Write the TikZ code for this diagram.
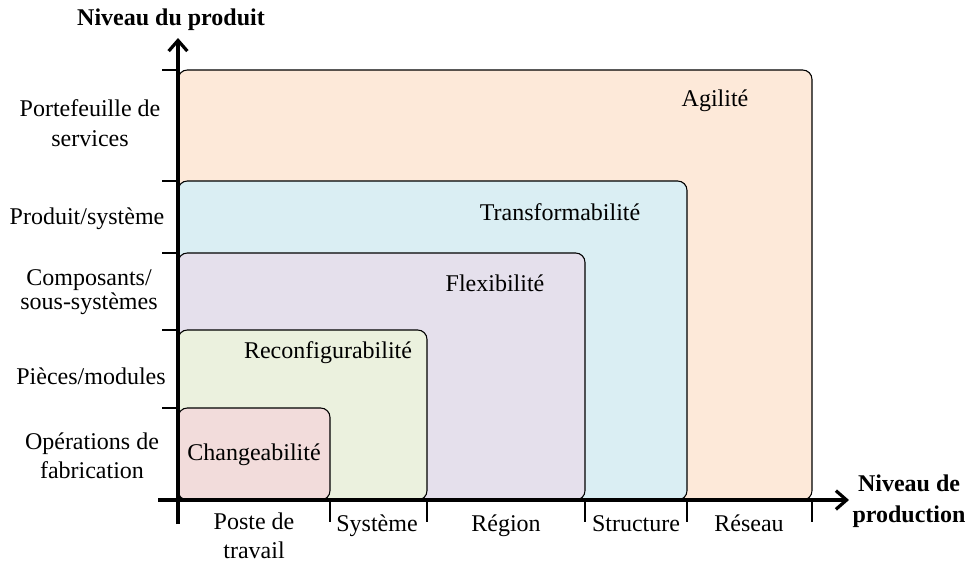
\documentclass[tikz,border=0pt]{standalone}
\usepackage{fontspec}
\setmainfont{Liberation Serif}
\usepackage{xcolor}
\definecolor{zoneAgil}{HTML}{FDE9D9}
\definecolor{zoneTrans}{HTML}{DAEEF3}
\definecolor{zoneFlex}{HTML}{E5E0EC}
\definecolor{zoneReconf}{HTML}{EBF1DE}
\definecolor{zoneChange}{HTML}{F2DCDB}
\usetikzlibrary{arrows.meta,positioning}
\tikzset{
    zone/.style={
        draw=black,
        line width=0.8pt,
        rounded corners=7pt
    },
    zonelabel/.style={
        font=\fontsize{18}{23}\selectfont,
        inner sep=1pt
    },
    levellabel/.style={
        font=\fontsize{18}{22}\selectfont,
        align=center,
        inner sep=1pt
    },
    axistitle/.style={
        font=\fontsize{18}{23}\selectfont\bfseries,
        align=center,
        inner sep=1pt
    },
    axis/.style={
        -{Straight Barb[length=8pt,width=14pt,line width=2.4pt]},
        line width=2.8pt
    },
    tick/.style={
        line width=1pt
    }
}

\begin{document}
\begin{tikzpicture}[x=0.75pt,y=-0.75pt]
    \useasboundingbox (0,0) rectangle (966,569);

    % zones, largest first
    \draw[zone, fill=zoneAgil] (178,70) rectangle (812,500);
    \draw[zone, fill=zoneTrans] (178,181) rectangle (687,500);
    \draw[zone, fill=zoneFlex] (178,253) rectangle (585,500);
    \draw[zone, fill=zoneReconf] (178,330) rectangle (427,500);
    \draw[zone, fill=zoneChange] (178,408) rectangle (330,500);

    \node[zonelabel] (agil) at (715,101) {Agilité};
    \node[zonelabel] (trans) at (560,212) {Transformabilité};
    \node[zonelabel] (flex) at (495,283) {Flexibilité};
    \node[zonelabel] (reconf) at (328,353) {Reconfigurabilité};
    \node[zonelabel] (change) at (254,455) {Changeabilité};

    % axes
    \coordinate (origin) at (178,500);
    \coordinate (ybottom) at (178,524);
    \coordinate (ytop) at (178,38);
    \coordinate (xleft) at (158,500);
    \coordinate (xright) at (849,500);
    \draw[axis] (ybottom) -- (ytop);
    \draw[axis] (xleft) -- (xright);

    \foreach \y in {70,181,253,330,408}
        \draw[tick] (162,\y) -- (178,\y);
    \foreach \x in {330,427,585,687,812}
        \draw[tick] (\x,500) -- (\x,522);

    \node[axistitle] (ytitle) at (171,20) {Niveau du produit};
    \node[axistitle] (xtitle) at (909,501) {Niveau de\\production};

    % product levels
    \node[levellabel] (serv) at (90,123) {Portefeuille de\\services};
    \node[levellabel] (prod) at (87,219) {Produit/système};
    \node[levellabel] (comp) at (89,292) {Composants/\\[-4pt]sous-systèmes};
    \node[levellabel] (piec) at (91,376) {Pièces/modules};
    \node[levellabel] (oper) at (92,456) {Opérations de\\fabrication};

    % production levels
    \node[levellabel, anchor=north] (poste) at (254,511) {Poste de\\travail};
    \node[levellabel, anchor=base] (syst) at (377,531) {Système};
    \node[levellabel, anchor=base] (regi) at (506,531) {Région};
    \node[levellabel, anchor=base] (struc) at (636,531) {Structure};
    \node[levellabel, anchor=base] (rese) at (749,531) {Réseau};
\end{tikzpicture}
\end{document}
